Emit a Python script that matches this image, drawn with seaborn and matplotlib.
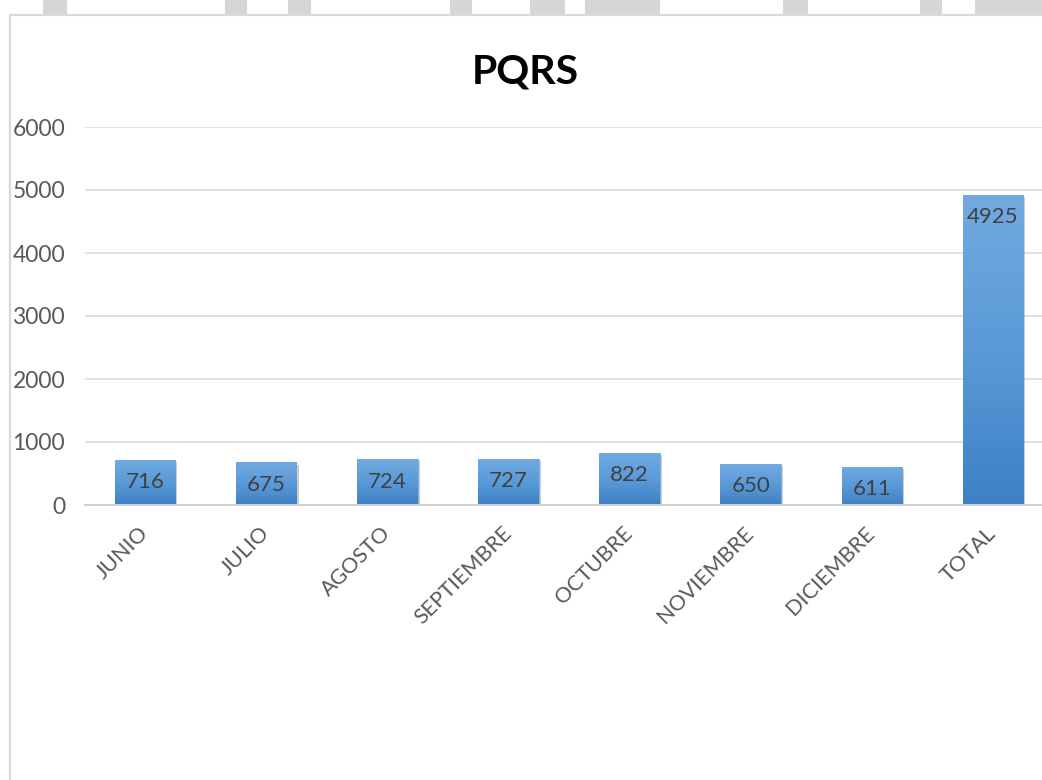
import numpy as np
import pandas as pd
import seaborn as sns
import matplotlib.pyplot as plt
from matplotlib.lines import Line2D
from matplotlib.patches import Rectangle
from matplotlib.colors import LinearSegmentedColormap
import matplotlib.patheffects as pe

# datos
meses = ['JUNIO', 'JULIO', 'AGOSTO', 'SEPTIEMBRE', 'OCTUBRE', 'NOVIEMBRE', 'DICIEMBRE', 'TOTAL']
pqrs = [716, 675, 724, 727, 822, 650, 611, 4925]
y_ticks = [0, 1000, 2000, 3000, 4000, 5000, 6000]

sns.set_theme(style="white")
plt.rcParams['font.family'] = ['Lato', 'DejaVu Sans']

df = pd.DataFrame({'mes': meses, 'valor': pqrs})

fig = plt.figure(figsize=(10.42, 7.80), dpi=100)
fig.patch.set_facecolor('white')

# area del grafico (en pixeles de la imagen original)
left, right = 84.5 / 1042, 1053.5 / 1042
bottom, top = (780 - 505) / 780, (780 - 127) / 780
ax = fig.add_axes([left, bottom, right - left, top - bottom])

sns.barplot(data=df, x='mes', y='valor', color='#5b9bd5', width=0.5, ax=ax,
            saturation=1, zorder=3)

ax.set_xlim(-0.5, len(meses) - 0.5)
ax.set_ylim(0, 6000)
ax.set_yticks(y_ticks)
ax.set_yticklabels([str(t) for t in y_ticks])
ax.set_xlabel('')
ax.set_ylabel('')

# degradado en las barras
grad = LinearSegmentedColormap.from_list('azul', ['#3d81c4', '#5a9ad9', '#72aae0'])
img = np.linspace(0, 1, 256).reshape(-1, 1)
for p in ax.patches:
    x0, y0 = p.get_x(), p.get_y()
    w, h = p.get_width(), p.get_height()
    p.set_edgecolor('#7fb2e3')
    p.set_linewidth(0.6)
    p.set_path_effects([pe.SimplePatchShadow(offset=(1.5, -1.5), shadow_rgbFace='#9a9a9a', alpha=0.5),
                        pe.Normal()])
    im = ax.imshow(img, cmap=grad, origin='lower', aspect='auto',
                   extent=(x0, x0 + w, y0, y0 + h), zorder=3.5)
    im.set_clip_path(p)

# etiquetas de valor
for i, v in enumerate(pqrs):
    ax.annotate(str(v), xy=(i, v), xytext=(0, -16), textcoords='offset points',
                ha='center', va='center', fontsize=16, color='#404040', zorder=5)

ax.grid(axis='y', color='#d9d9d9', linewidth=1.1, zorder=0)
ax.set_axisbelow(True)
for s in ['left', 'right', 'top']:
    ax.spines[s].set_visible(False)
ax.spines['bottom'].set_color('#d0d0d0')
ax.spines['bottom'].set_linewidth(1.4)
ax.spines['bottom'].set_zorder(4)

ax.tick_params(axis='y', length=0, pad=14, labelsize=16.5, labelcolor='#595959')
ax.tick_params(axis='x', length=0, pad=18, labelsize=15.5, labelcolor='#595959')
for lbl in ax.get_xticklabels():
    lbl.set_rotation(45)
    lbl.set_ha('right')
    lbl.set_va('center')
    lbl.set_rotation_mode('anchor')

fig.text(525 / 1042, 1 - 72 / 780, 'PQRS', ha='center', va='center',
         fontsize=29.5, fontweight='bold', color='black')

# marco del grafico
fig.add_artist(Line2D([10 / 1042, 10 / 1042], [0, 1 - 15 / 780], color='#d9d9d9', lw=1.6))
fig.add_artist(Line2D([10 / 1042, 1], [1 - 15 / 780, 1 - 15 / 780], color='#d9d9d9', lw=1.6))

# marca de agua gris en la franja superior
for x0, x1 in [(43, 67), (225, 247), (288, 311), (450, 472), (530, 565), (585, 660),
               (783, 808), (920, 942), (975, 1042)]:
    fig.add_artist(Rectangle((x0 / 1042, 1 - 14 / 780), (x1 - x0) / 1042, 14 / 780,
                             transform=fig.transFigure, color='#d6d6d6', lw=0))

fig.savefig('out.png', dpi=100)
